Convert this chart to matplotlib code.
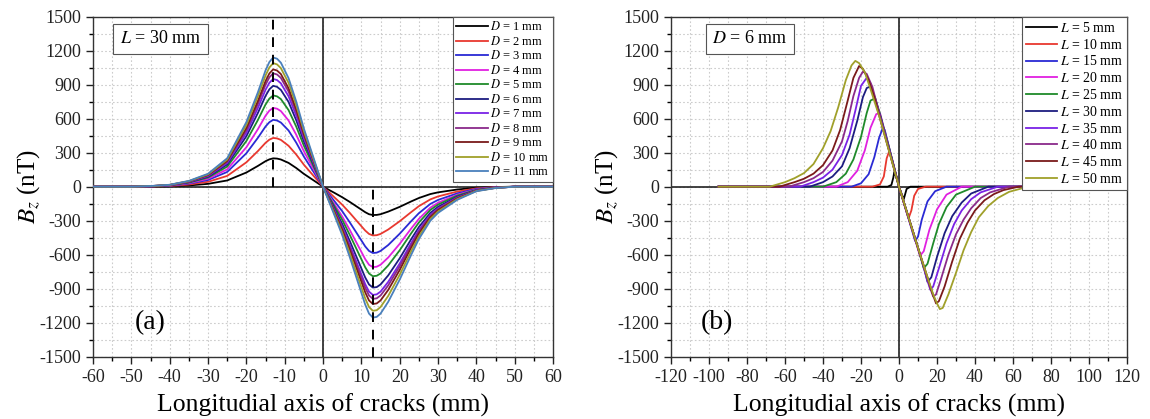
import numpy as np
import matplotlib
matplotlib.use('Agg')
import matplotlib.pyplot as plt
from matplotlib.ticker import MultipleLocator

plt.rcParams['font.family'] = ['Liberation Serif', 'DejaVu Serif']
plt.rcParams['mathtext.fontset'] = 'stix'
plt.rcParams['axes.unicode_minus'] = False

# ---- (a) crack length fixed at 30 mm, depth D varied ----
x_a = [-60, -50, -45, -40, -35, -30, -25, -20, -17, -15, -14, -13, -12, -11, -9, -7, -5, -3, 0,
       3, 5, 7, 9, 11, 12, 13, 14, 15, 17, 20, 23, 25, 28, 30, 35, 40, 45, 50, 60]

bz_d01 = [0, 0, 1, 4, 11, 25, 55, 125, 183, 225, 241, 250, 248, 240, 210, 165, 113, 68, 0,
          -55, -93, -135, -180, -225, -243, -250, -249, -243, -220, -178, -130, -100, -65, -50, -25, -9, -3, 0, 0]
bz_d02 = [0, 0, 2, 6, 19, 43, 95, 215, 314, 387, 415, 430, 426, 413, 361, 284, 194, 116, 0,
          -95, -159, -232, -310, -387, -417, -430, -428, -417, -378, -305, -224, -172, -112, -86, -43, -15, -4, 0, 0]
bz_d03 = [0, 0, 3, 9, 27, 59, 130, 295, 431, 531, 569, 590, 584, 566, 496, 389, 266, 159, 0,
          -129, -216, -316, -421, -527, -567, -585, -582, -567, -515, -415, -304, -234, -152, -117, -59, -20, -6, 0, 0]
bz_d04 = [0, 0, 3, 10, 31, 70, 153, 348, 507, 626, 671, 695, 688, 667, 584, 459, 313, 188, 0,
          -156, -263, -383, -511, -639, -689, -710, -706, -689, -625, -504, -369, -284, -185, -142, -71, -25, -7, 0, 0]
bz_d05 = [0, 0, 4, 12, 36, 81, 177, 403, 588, 725, 777, 805, 797, 773, 676, 531, 362, 217, 0,
          -174, -292, -427, -569, -711, -766, -790, -786, -766, -695, -561, -411, -316, -205, -158, -79, -28, -8, 0, 0]
bz_d06 = [0, 0, 4, 13, 40, 89, 196, 445, 650, 801, 859, 890, 881, 854, 748, 587, 401, 240, 0,
          -196, -329, -481, -641, -801, -863, -890, -886, -863, -783, -632, -463, -356, -231, -178, -89, -31, -9, 0, 0]
bz_d07 = [0, 0, 5, 14, 43, 95, 209, 475, 694, 855, 917, 950, 941, 912, 798, 627, 428, 257, 0,
          -210, -353, -516, -688, -860, -926, -955, -950, -926, -840, -678, -497, -382, -248, -191, -96, -33, -10, 0, 0]
bz_d08 = [0, 0, 5, 15, 45, 100, 220, 500, 730, 900, 965, 1000, 990, 960, 840, 660, 450, 270, 0,
          -218, -366, -535, -713, -891, -960, -990, -985, -960, -871, -703, -515, -396, -257, -198, -99, -35, -10, 0, 0]
bz_d09 = [0, 0, 5, 16, 47, 104, 228, 518, 756, 932, 999, 1035, 1025, 994, 869, 683, 466, 279, 0,
          -228, -383, -559, -745, -932, -1004, -1035, -1030, -1004, -911, -735, -538, -414, -269, -207, -104, -36, -10, 0, 0]
bz_d10 = [0, 0, 5, 16, 49, 109, 240, 545, 796, 981, 1052, 1090, 1079, 1046, 916, 719, 491, 294, 0,
          -241, -405, -591, -788, -986, -1062, -1095, -1090, -1062, -964, -777, -569, -438, -285, -219, -110, -38, -11, 0, 0]
bz_d11 = [0, 0, 6, 17, 51, 114, 251, 570, 832, 1026, 1100, 1140, 1129, 1094, 958, 752, 513, 308, 0,
          -254, -427, -624, -832, -1040, -1120, -1155, -1149, -1120, -1016, -820, -601, -462, -300, -231, -116, -40, -12, 0, 0]

depths = [1, 2, 3, 4, 5, 6, 7, 8, 9, 10, 11]
peak_pos_a = 13

# ---- (b) crack depth fixed at 6 mm, length L varied ----
x_l05 = [-95, -6, -4, -3, -2.5, -1.5, 0, 1.5, 2.5, 3, 4, 6, 92]
bz_l05 = [0, 0, 15, 80, 130, 90, 0, -70, -110, -80, -20, 0, 0]
x_l10 = [-95, -14, -10, -8, -6.5, -5, -3, 0, 3, 5, 6.5, 8, 10, 14, 92]
bz_l10 = [0, 0, 20, 90, 250, 320, 200, 0, -170, -280, -210, -80, -20, 0, 0]
x_l15 = [-95, -25, -20, -16, -13, -10.5, -8.5, -7.5, -5, 0, 5, 8.5, 10, 12, 15, 19, 25, 92]
bz_l15 = [0, 0, 30, 110, 260, 430, 520, 500, 330, 0, -280, -480, -440, -290, -130, -40, 0, 0]
x_l20 = [-95, -33, -27, -22, -18, -15, -12, -10, -8, -5, 0, 5, 8, 11, 13, 16, 20, 25, 33, 92]
bz_l20 = [0, 0, 40, 140, 320, 520, 640, 650, 520, 330, 0, -280, -440, -610, -570, -380, -200, -70, 0, 0]
x_l25 = [-95, -40, -33, -28, -24, -20, -17, -15, -12.5, -10, -5, 0, 5, 10, 13, 15, 18, 21, 25, 30, 40, 92]
bz_l25 = [0, 0, 40, 115, 240, 440, 650, 760, 780, 640, 330, 0, -270, -540, -720, -680, -500, -330, -180, -70, 0, 0]
x_l30 = [-95, -47, -40, -35, -30, -26, -22, -19, -17, -15, -13, -10, -5, 0, 5, 10, 13, 15, 17, 20, 24, 28, 33, 38, 47, 92]
bz_l30 = [0, 0, 40, 90, 180, 340, 580, 790, 870, 885, 800, 630, 320, 0, -270, -540, -710, -840, -800, -620, -410, -260, -140, -60, 0, 0]
x_l35 = [-95, -52, -45, -40, -35, -30, -26, -23, -20, -17, -15, -12, -8, -4, 0, 4, 8, 12, 15, 16.5, 18, 21, 25, 29, 33, 38, 43, 52, 92]
bz_l35 = [0, 0, 40, 80, 150, 280, 460, 670, 890, 960, 910, 740, 500, 250, 0, -220, -430, -650, -830, -910, -880, -720, -500, -330, -210, -110, -50, 0, 0]
x_l40 = [-95, -58, -50, -45, -40, -35, -30, -27, -24, -21, -19, -17, -14, -10, -5, 0, 5, 10, 14, 16.5, 18, 19.5, 22, 26, 30, 34, 38, 43, 48, 58, 92]
bz_l40 = [0, 0, 40, 75, 130, 230, 400, 580, 800, 960, 1015, 995, 880, 620, 310, 0, -270, -540, -760, -900, -970, -950, -820, -600, -420, -290, -190, -100, -50, 0, 0]
x_l45 = [-95, -63, -55, -50, -45, -40, -35, -31, -27, -24, -21, -19, -16, -13, -10, -5, 0, 5, 10, 15, 18, 19.5, 21, 24, 28, 32, 36, 40, 45, 50, 55, 63, 92]
bz_l45 = [0, 0, 40, 70, 115, 190, 320, 500, 760, 960, 1065, 1040, 940, 790, 600, 300, 0, -270, -540, -800, -960, -1030, -1010, -880, -660, -460, -320, -210, -120, -65, -30, 0, 0]
x_l50 = [-95, -68, -60, -55, -50, -45, -40, -36, -32, -28, -25, -23, -21, -18, -15, -10, -5, 0, 5, 10, 15, 18, 20, 21.5, 23, 26, 30, 34, 38, 42, 47, 52, 58, 68, 92]
bz_l50 = [0, 0, 40, 75, 120, 200, 340, 490, 700, 940, 1070, 1110, 1090, 1010, 860, 600, 300, 0, -270, -540, -800, -950, -1030, -1080, -1070, -950, -760, -560, -400, -270, -170, -100, -45, 0, 0]

lengths = [5, 10, 15, 20, 25, 30, 35, 40, 45, 50]

colors_a = ['#000000', '#e8382f', '#2a2ad4', '#e020e0', '#1f8a2a', '#1c1c80',
            '#7a22e6', '#8a2a8a', '#7a1a1a', '#a0a02a', '#4a80bc']
colors_b = colors_a[:10]


def style_axes(ax, xmax, xstep):
    ax.set_xlim(-xmax, xmax)
    ax.set_ylim(-1500, 1500)
    ax.xaxis.set_major_locator(MultipleLocator(xstep))
    ax.xaxis.set_minor_locator(MultipleLocator(xstep / 2))
    ax.yaxis.set_major_locator(MultipleLocator(300))
    ax.yaxis.set_minor_locator(MultipleLocator(150))
    ax.grid(which='both', color='#cccccc', linestyle=(0, (1.5, 2)), linewidth=0.8)
    ax.set_axisbelow(True)
    ax.tick_params(which='major', direction='out', length=5, width=1, labelsize=13,
                   top=False, right=False, colors='#222222')
    ax.tick_params(which='minor', direction='out', length=3, width=1, top=False, right=False)
    for s in ax.spines.values():
        s.set_linewidth(1.0)
        s.set_color('#333333')
    ax.axhline(0, color='#222222', lw=1.2, zorder=1.5)
    ax.axvline(0, color='#222222', lw=1.2, zorder=1.5)
    ax.set_xlabel('Longitudial axis of cracks (mm)', fontsize=18.5, labelpad=6)
    ax.set_ylabel(r'$B_z$ (nT)', fontsize=18, labelpad=-2)


fig = plt.figure(figsize=(11.5, 4.19), dpi=100)
ax_a = fig.add_axes([0.0809, 0.1487, 0.4, 0.8115])
ax_b = fig.add_axes([0.5835, 0.1487, 0.3965, 0.8115])

# panel (a)
style_axes(ax_a, 60, 10)
series_a = [bz_d01, bz_d02, bz_d03, bz_d04, bz_d05, bz_d06,
            bz_d07, bz_d08, bz_d09, bz_d10, bz_d11]
for d, bz, c in zip(depths, series_a, colors_a):
    ax_a.plot(x_a, bz, color=c, lw=1.3, label=r'$D$ = %d mm' % d, zorder=3)
ax_a.axvline(-peak_pos_a, ymin=0.5, ymax=1.0, color='k', ls=(0, (5, 4)), lw=1.4, zorder=4)
ax_a.axvline(peak_pos_a, ymin=0.0, ymax=0.5, color='k', ls=(0, (5, 4)), lw=1.4, zorder=4)
ax_a.text(0.058, 0.935, r'$L$ = 30 mm', transform=ax_a.transAxes, fontsize=13,
          va='center', ha='left',
          bbox=dict(boxstyle='square,pad=0.35', fc='white', ec='#555555', lw=0.8))
ax_a.text(0.125, 0.1, '(a)', transform=ax_a.transAxes, fontsize=20, ha='center', va='center')
leg_a = ax_a.legend(loc='upper right', fontsize=9, handlelength=2.5, handletextpad=0.2,
                    labelspacing=0.12, borderpad=0.3, borderaxespad=0.0, fancybox=False,
                    framealpha=1, edgecolor='#555555')
leg_a.get_frame().set_linewidth(0.8)

# panel (b)
style_axes(ax_b, 120, 20)
series_b = [(x_l05, bz_l05), (x_l10, bz_l10), (x_l15, bz_l15), (x_l20, bz_l20),
            (x_l25, bz_l25), (x_l30, bz_l30), (x_l35, bz_l35), (x_l40, bz_l40),
            (x_l45, bz_l45), (x_l50, bz_l50)]
for length, (xs, bz), c in zip(lengths, series_b, colors_b):
    ax_b.plot(xs, bz, color=c, lw=1.3, label=r'$L$ = %d mm' % length, zorder=3)
ax_b.text(0.09, 0.935, r'$D$ = 6 mm', transform=ax_b.transAxes, fontsize=13,
          va='center', ha='left',
          bbox=dict(boxstyle='square,pad=0.35', fc='white', ec='#555555', lw=0.8))
ax_b.text(0.1, 0.1, '(b)', transform=ax_b.transAxes, fontsize=20, ha='center', va='center')
leg_b = ax_b.legend(loc='upper right', fontsize=10, handlelength=2.2, handletextpad=0.2,
                    labelspacing=0.2, borderpad=0.3, borderaxespad=0.0, fancybox=False,
                    framealpha=1, edgecolor='#555555')
leg_b.get_frame().set_linewidth(0.8)

fig.savefig('out.png', dpi=100)
